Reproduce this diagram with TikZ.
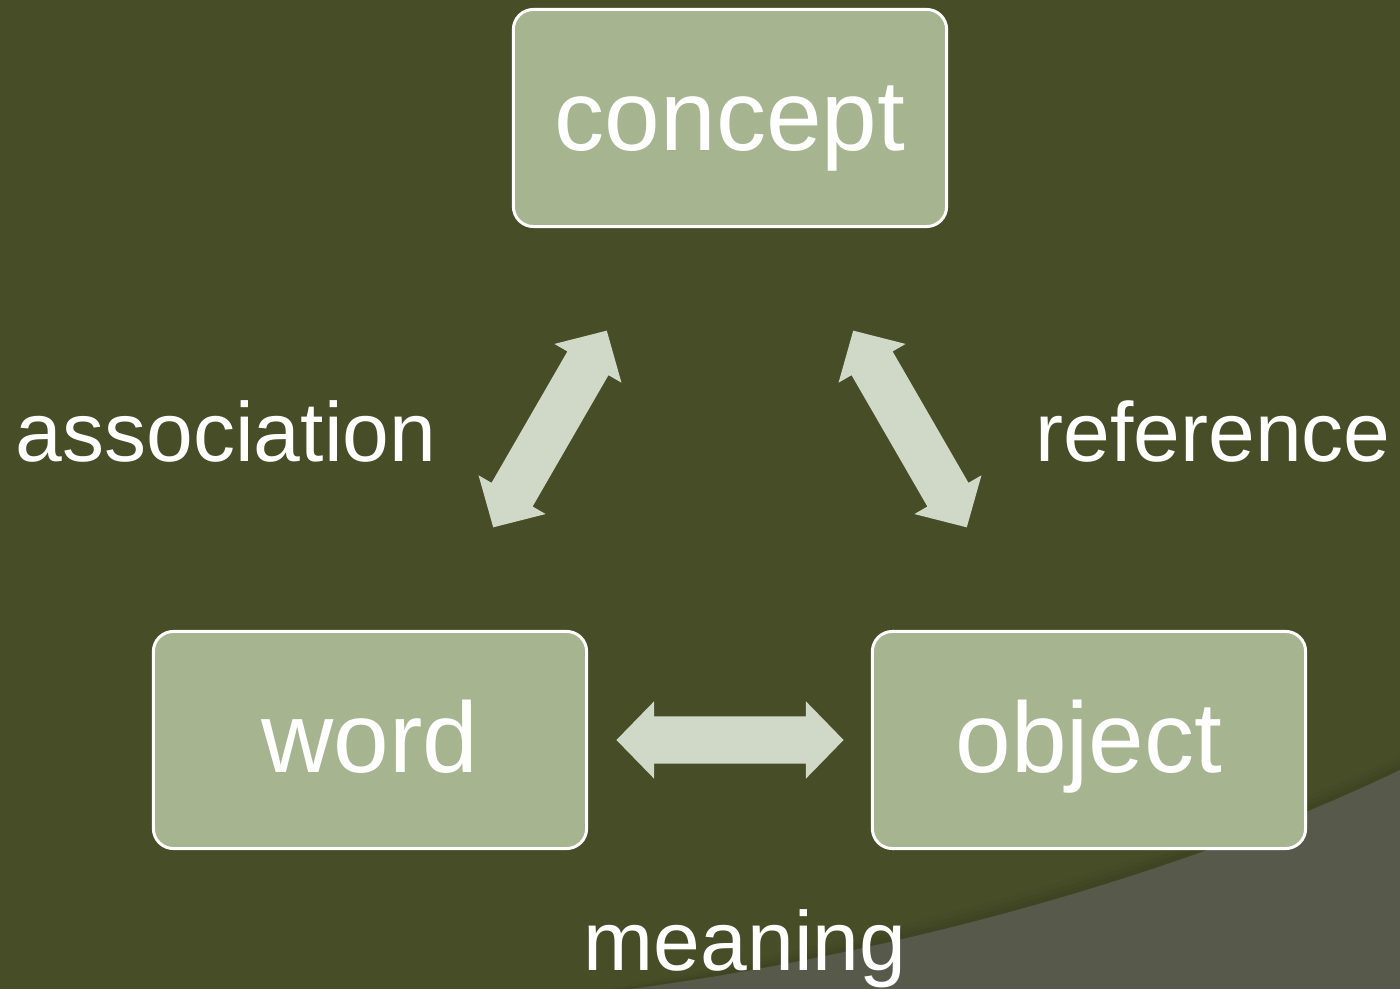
\documentclass[tikz,border=0pt]{standalone}
\usepackage{fontspec}
\setmainfont{Liberation Sans}
\usetikzlibrary{shapes.arrows}

\definecolor{bgolive}{HTML}{464D27}
\definecolor{boxfill}{HTML}{A6B490}
\definecolor{arrowfill}{HTML}{D0D9C7}
\definecolor{swoosh}{HTML}{575A4A}
\definecolor{swooshedge}{HTML}{3A3F20}

\tikzset{
  termbox/.style={draw=white, line width=0.03cm, fill=boxfill, rounded corners=0.2cm,
    minimum width=4.33cm, minimum height=2.17cm, inner sep=0pt,
    text height=0.8cm, text depth=0.16cm, text=white,
    font=\fontsize{28.45pt}{34pt}\selectfont},
  relarrow/.style={double arrow, fill=arrowfill, inner xsep=0pt, inner ysep=0.23cm,
    minimum height=2.27cm, minimum width=0.76cm,
    double arrow head extend=0.15cm, double arrow tip angle=91.5},
  rellabel/.style={text=white, anchor=base, inner sep=0pt,
    font=\fontsize{23.9pt}{28pt}\selectfont}
}

\begin{document}
\begin{tikzpicture}[x=0.01cm, y=-0.01cm]
  % backdrop and the lighter sweep at the lower right
  \fill[bgolive] (0,0) rectangle (1400,989);
  \useasboundingbox (0,0) rectangle (1400,989);
  \foreach \d/\o in {14/0.12, 9/0.18, 5/0.25} {
    \fill[swooshedge, opacity=\o]
      (630-\d*1.6,989) .. controls (850-\d*1.2,960-\d) and (1150-\d*0.6,890-\d) .. (1400,770-\d)
      -- (1400,989) -- cycle;
  }
  \fill[swoosh] (630,989) .. controls (850,960) and (1150,890) .. (1400,770) -- (1400,989) -- cycle;

  % the three terms
  \node[termbox] (concept) at (730,118) {concept};
  \node[termbox] (word)    at (370,740) {word};
  \node[termbox] (object)  at (1089,740) {object};

  % two-way relations between them
  \node[relarrow, rotate=60]  (assoc) at (550,429) {};
  \node[relarrow, rotate=-60] (refer) at (910,429) {};
  \node[relarrow]             (mean)  at (730,740) {};

  % relation names
  \node[rellabel] (assoclabel) at (226,462) {association};
  \node[rellabel] (referlabel) at (1213,462) {reference};
  \node[rellabel] (meanlabel)  at (745,970) {meaning};
\end{tikzpicture}
\end{document}
